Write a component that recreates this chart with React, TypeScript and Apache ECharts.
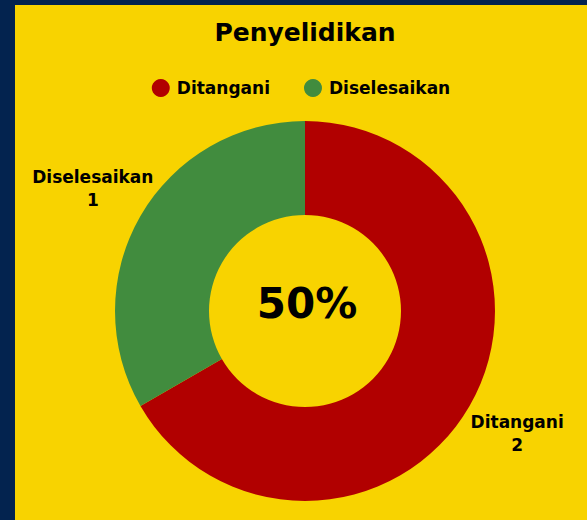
import React, { useEffect, useRef } from "react";
import * as echarts from "echarts";

const categories = ["Ditangani", "Diselesaikan"];
const values = [2, 1];
const colors = ["#b10000", "#418c3e"];
const centerText = "50%";
const titleText = "Penyelidikan";

const FONT = "'DejaVu Sans', sans-serif";

export default function App() {
  const ref = useRef<HTMLDivElement>(null);
  useEffect(() => {
    if (!ref.current) return;
    const chart = echarts.init(ref.current, undefined, { renderer: "svg" });
    const data = categories.map((name, i) => ({
      name,
      value: values[i],
      itemStyle: { color: colors[i] },
    }));
    chart.setOption({
      animation: false,
      title: [
        {
          text: titleText,
          left: 285,
          top: 10,
          textAlign: "center",
          textStyle: { fontFamily: FONT, fontWeight: "bold", fontSize: 25, color: "#000" },
        },
        {
          text: centerText,
          left: 287,
          top: 272,
          textAlign: "center",
          textStyle: { fontFamily: FONT, fontWeight: "bold", fontSize: 42, color: "#000" },
        },
      ],
      legend: {
        data: categories,
        top: 69,
        left: "center",
        icon: "circle",
        itemWidth: 18,
        itemHeight: 18,
        itemGap: 34,
        textStyle: { fontFamily: FONT, fontWeight: "bold", fontSize: 17, color: "#000", padding: [0, 0, 0, 2] },
      },
      series: [
        {
          type: "pie",
          center: [290, 306],
          radius: [96, 190],
          startAngle: 90,
          clockwise: true,
          label: { show: false },
          labelLine: { show: false },
          data,
        },
        {
          type: "pie",
          center: [290, 306],
          radius: [196, 288],
          startAngle: 90,
          clockwise: true,
          silent: true,
          legendHoverLink: false,
          itemStyle: { color: "transparent", borderWidth: 0 },
          label: {
            show: true,
            position: "inside",
            formatter: "{b}\n{c}",
            fontFamily: FONT,
            fontWeight: "bold",
            fontSize: 17,
            lineHeight: 23,
            color: "#000",
          },
          labelLine: { show: false },
          data: categories.map((name, i) => ({ name, value: values[i], itemStyle: { color: "transparent" } })),
        },
      ],
    });
    return () => chart.dispose();
  }, []);
  return (
    <div style={{ position: "fixed", left: 0, top: 0, width: 587, height: 520, background: "#03234f" }}>
      <div
        ref={ref}
        style={{ position: "absolute", left: 15, top: 5, width: 572, height: 515, background: "#f8d300" }}
      />
    </div>
  );
}
